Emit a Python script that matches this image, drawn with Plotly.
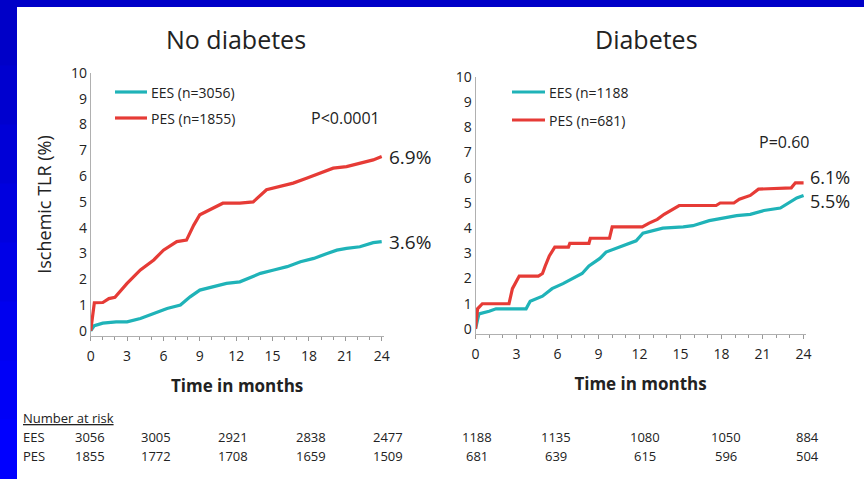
import plotly.graph_objects as go

W, H = 864, 479

# ---------------- data ----------------
months_ticks = [0, 3, 6, 9, 12, 15, 18, 21, 24]
y_ticks = list(range(0, 11))

nd_pes_t = [0, 0.3, 1.0, 1.5, 2.0, 3.0, 4.1, 5.2, 6.0, 7.1, 7.9, 8.5, 9.0, 10.1, 10.9, 12.3, 13.4, 14.5, 15.6, 16.7, 17.8, 18.9, 20.0, 21.1, 22.2, 23.3, 24]
nd_pes_v = [0, 1.09, 1.1, 1.25, 1.3, 1.84, 2.36, 2.75, 3.13, 3.46, 3.52, 4.1, 4.5, 4.75, 4.95, 4.95, 5.0, 5.47, 5.6, 5.73, 5.92, 6.11, 6.31, 6.37, 6.5, 6.63, 6.76]
nd_ees_t = [0, 0.3, 1.0, 2.1, 3.0, 4.1, 5.2, 6.3, 7.4, 8.2, 9.0, 10.1, 11.2, 12.3, 13.4, 14.0, 15.1, 16.2, 17.3, 18.4, 19.5, 20.3, 21.1, 22.2, 23.3, 24]
nd_ees_v = [0, 0.2, 0.3, 0.35, 0.35, 0.48, 0.67, 0.87, 1.0, 1.32, 1.58, 1.71, 1.84, 1.9, 2.1, 2.23, 2.36, 2.49, 2.68, 2.81, 3.0, 3.13, 3.2, 3.26, 3.42, 3.46]

d_pes_t = [0, 0.15, 0.5, 2.45, 2.7, 3.2, 4.6, 4.9, 5.1, 5.4, 5.8, 6.8, 6.9, 8.3, 8.4, 9.8, 10.0, 12.2, 12.7, 13.3, 13.8, 14.4, 14.9, 17.6, 17.9, 18.9, 19.3, 20.1, 20.7, 23.1, 23.4, 24]
d_pes_v = [0, 0.8, 1.0, 1.0, 1.6, 2.1, 2.1, 2.2, 2.5, 2.9, 3.25, 3.25, 3.4, 3.4, 3.6, 3.6, 4.05, 4.05, 4.2, 4.35, 4.55, 4.75, 4.9, 4.9, 5.0, 5.0, 5.15, 5.3, 5.55, 5.6, 5.8, 5.8]
d_ees_t = [0, 0.25, 1.0, 1.5, 3.7, 4.0, 4.9, 5.6, 6.4, 7.1, 7.8, 8.3, 9.1, 9.55, 10.3, 11.0, 11.75, 12.25, 13.0, 13.7, 15.2, 15.9, 17.1, 18.1, 19.1, 20.1, 21.1, 22.3, 22.9, 23.5, 24]
d_ees_v = [0, 0.6, 0.7, 0.8, 0.8, 1.1, 1.3, 1.6, 1.8, 2.0, 2.2, 2.5, 2.8, 3.05, 3.2, 3.35, 3.5, 3.8, 3.9, 4.0, 4.05, 4.1, 4.3, 4.4, 4.5, 4.55, 4.7, 4.8, 5.0, 5.2, 5.3]

titles = ["No diabetes", "Diabetes"]
legend_nd = ["EES (n=3056)", "PES (n=1855)"]
legend_d = ["EES (n=1188", "PES (n=681)"]
pvals = ["P<0.0001", "P=0.60"]
end_labels_nd = ["6.9%", "3.6%"]
end_labels_d = ["6.1%", "5.5%"]

risk_header = "Number at risk"
risk_rows = ["EES", "PES"]
risk_nd_ees = [3056, 3005, 2921, 2838, 2477]
risk_nd_pes = [1855, 1772, 1708, 1659, 1509]
risk_d_ees = [1188, 1135, 1080, 1050, 884]
risk_d_pes = [681, 639, 615, 596, 504]

TEAL = "#1fb3b8"
RED = "#e63b36"
TXT = "#222222"
AX = "#b0b0b0"
FONT = "Open Sans"


def px(x):
    return x / W


def py(y):
    return 1 - y / H


fig = go.Figure()

for t, v, c, xa, ya in [
    (nd_ees_t, nd_ees_v, TEAL, "x", "y"),
    (nd_pes_t, nd_pes_v, RED, "x", "y"),
    (d_ees_t, d_ees_v, TEAL, "x2", "y2"),
    (d_pes_t, d_pes_v, RED, "x2", "y2"),
]:
    fig.add_trace(go.Scatter(x=t, y=v, mode="lines", xaxis=xa, yaxis=ya,
                             line=dict(color=c, width=3.2), showlegend=False,
                             hoverinfo="skip"))

xcommon = dict(range=[0, 24.15], tickmode="array", tickvals=months_ticks, automargin=False,
               showgrid=False, zeroline=False, showline=True, linecolor=AX, linewidth=1,
               ticks="outside", ticklen=4, tickcolor="#999999", ticklabelstandoff=3,
               minor=dict(dtick=1, ticks="outside", ticklen=3, tickcolor="#999999"),
               tickfont=dict(family=FONT, size=14, color=TXT),
               title=dict(text="<b>Time in months</b>", font=dict(family=FONT, size=17, color=TXT), standoff=16))
ycommon = dict(range=[-0.2, 10], tickmode="array", tickvals=y_ticks, automargin=False,
               showgrid=False, zeroline=False, showline=True, linecolor=AX, linewidth=1,
               ticks="", tickfont=dict(family=FONT, size=14, color=TXT))

fig.update_layout(
    width=W, height=H, margin=dict(l=0, r=0, t=0, b=0, autoexpand=False),
    paper_bgcolor="white", plot_bgcolor="rgba(0,0,0,0)",
    xaxis=dict(domain=[px(90.7), px(90.7 + 24.15 * 12.125)], anchor="y", **xcommon),
    yaxis=dict(domain=[py(336), py(73)], anchor="x",
               title=dict(text="Ischemic TLR (%)", font=dict(family=FONT, size=18, color=TXT), standoff=14),
               **ycommon),
    xaxis2=dict(domain=[px(475.5), px(475.5 + 24.15 * 13.67)], anchor="y2", **xcommon),
    yaxis2=dict(domain=[py(334), py(77)], anchor="x2", **ycommon),
)

shapes = []
# blue slide border
shapes.append(dict(type="rect", xref="paper", yref="paper", x0=0, x1=1, y0=py(7), y1=1,
                   fillcolor="#0000c8", line=dict(width=0), layer="above"))
nb = 8
for i in range(nb):
    y0 = 7 + (H - 7) * i / nb
    y1 = 7 + (H - 7) * (i + 1) / nb
    b = int(0xc8 + (0xff - 0xc8) * i / (nb - 1))
    shapes.append(dict(type="rect", xref="paper", yref="paper", x0=0, x1=px(17),
                       y0=py(y1), y1=py(y0 - 0.5), fillcolor="#0000%02x" % b,
                       line=dict(width=0), layer="above"))

# legend samples
for (x0, x1, yy, c) in [(115, 147, 92, TEAL), (115, 147, 118, RED),
                        (512, 545, 92, TEAL), (512, 545, 120, RED)]:
    shapes.append(dict(type="line", xref="paper", yref="paper", x0=px(x0), x1=px(x1),
                       y0=py(yy), y1=py(yy), line=dict(color=c, width=3.2)))
fig.update_layout(shapes=shapes)

ann = []


def txt(x, y, s, size, xanchor="center", bold=False, color=TXT):
    ann.append(dict(xref="paper", yref="paper", x=px(x), y=py(y), text=("<b>%s</b>" % s) if bold else s,
                    showarrow=False, xanchor=xanchor, yanchor="middle",
                    font=dict(family=FONT, size=size, color=color)))


txt(236, 39, titles[0], 25)
txt(646, 39, titles[1], 25)
txt(149, 92, legend_nd[0], 14, "left")
txt(149, 118, legend_nd[1], 14, "left")
txt(547, 92, legend_d[0], 14, "left")
txt(547, 120, legend_d[1], 14, "left")
txt(345, 118, pvals[0], 16)
txt(784, 142, pvals[1], 16)
txt(387, 157, end_labels_nd[0], 19, "left")
txt(387, 242, end_labels_nd[1], 19, "left")
txt(808, 177, end_labels_d[0], 18, "left")
txt(808, 201, end_labels_d[1], 18, "left")

# number at risk table
txt(21, 418, "<u>%s</u>" % risk_header, 13, "left")
txt(21, 437, risk_rows[0], 13, "left")
txt(21, 456, risk_rows[1], 13, "left")
cols_nd = [90, 156, 233, 311, 388]
cols_d = [477, 556, 645, 726, 807]
for i in range(5):
    txt(cols_nd[i], 437, str(risk_nd_ees[i]), 13)
    txt(cols_nd[i], 456, str(risk_nd_pes[i]), 13)
    txt(cols_d[i], 437, str(risk_d_ees[i]), 13)
    txt(cols_d[i], 456, str(risk_d_pes[i]), 13)

fig.update_layout(annotations=ann)

post = ("document.body.style.margin='0';document.body.style.padding='0';"
        "document.body.style.overflow='hidden';"
        "var d=document.getElementById('{plot_id}');"
        "d.style.position='fixed';d.style.left='0px';d.style.top='0px';")
fig.write_html("out.html", post_script=post, config={"displayModeBar": False})
